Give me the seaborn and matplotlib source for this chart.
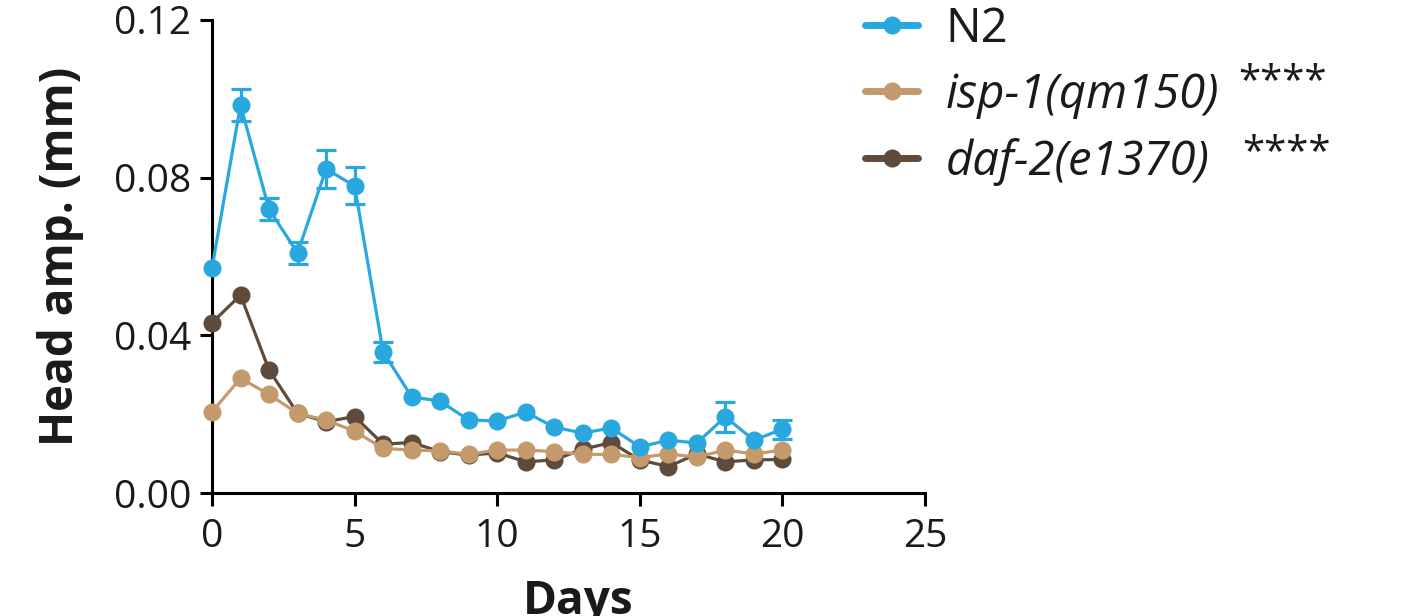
import numpy as np
import pandas as pd
import matplotlib
matplotlib.use("Agg")
import matplotlib.pyplot as plt
from matplotlib.lines import Line2D
import seaborn as sns

# Head amplitude (mm) by day of adulthood
days = list(range(0, 21))
n2_mean = [0.0571, 0.0984, 0.0720, 0.0609, 0.0822, 0.0779, 0.0358, 0.0244, 0.0233, 0.0185,
           0.0183, 0.0205, 0.0167, 0.0152, 0.0165, 0.0117, 0.0134, 0.0127, 0.0193, 0.0134, 0.0162]
n2_sem = [0.0015, 0.0041, 0.0028, 0.0029, 0.0048, 0.0047, 0.0025, 0.0012, 0.0012, 0.0010,
          0.0010, 0.0012, 0.0010, 0.0010, 0.0012, 0.0010, 0.0010, 0.0012, 0.0037, 0.0012, 0.0024]
isp1_mean = [0.0206, 0.0291, 0.0250, 0.0202, 0.0185, 0.0157, 0.0113, 0.0109, 0.0107, 0.0098,
             0.0109, 0.0109, 0.0105, 0.0098, 0.0098, 0.0090, 0.0099, 0.0091, 0.0109, 0.0099, 0.0109]
daf2_mean = [0.0432, 0.0502, 0.0312, 0.0202, 0.0181, 0.0194, 0.0124, 0.0128, 0.0105, 0.0096,
             0.0102, 0.0079, 0.0084, 0.0111, 0.0128, 0.0084, 0.0067, 0.0099, 0.0079, 0.0084, 0.0085]

strains = ["N2", "isp-1(qm150)", "daf-2(e1370)"]
significance = ["", "****", "****"]
colors = ["#29A8E0", "#C49A6C", "#5E4B3C"]
x_ticks = [0, 5, 10, 15, 20, 25]
y_ticks = [0.00, 0.04, 0.08, 0.12]

df = pd.DataFrame({
    "Days": days * 3,
    "amp": n2_mean + isp1_mean + daf2_mean,
    "strain": [strains[0]] * 21 + [strains[1]] * 21 + [strains[2]] * 21,
})

sns.set_style("ticks")
plt.rcParams["font.family"] = ["Open Sans", "DejaVu Sans"]

fig = plt.figure(figsize=(14.27, 6.16), dpi=100)
ax = fig.add_axes([212 / 1427, 1 - 493 / 616, 713 / 1427, 473 / 616])

lw = 2.3
ms = 13
txt = "#1a1a1a"

# error bars for N2, only where they reach beyond the marker
sem = np.array(n2_sem)
shown = sem > 0.0022
ax.errorbar(np.array(days)[shown], np.array(n2_mean)[shown], yerr=sem[shown],
            fmt="none", ecolor=colors[0], elinewidth=lw, capsize=7.5,
            capthick=lw, zorder=2)

palette = dict(zip(strains, colors))
sns.lineplot(data=df, x="Days", y="amp", hue="strain", hue_order=strains[::-1],
             palette=palette, marker="o", markersize=ms, markeredgewidth=0,
             linewidth=lw, legend=False, ax=ax, zorder=3)

ax.set_xlim(0, 25)
ax.set_ylim(0, 0.12)
ax.set_xticks(x_ticks)
ax.set_yticks(y_ticks)
ax.set_yticklabels([f"{v:.2f}" for v in y_ticks])
for c in ax.collections + ax.lines:
    c.set_clip_on(False)

sns.despine(ax=ax)
for s in ["left", "bottom"]:
    ax.spines[s].set_linewidth(2.2)
    ax.spines[s].set_color("black")
ax.tick_params(axis="both", length=9, width=2.2, color="black",
               labelsize=28, labelcolor=txt)
ax.tick_params(axis="x", pad=9)
ax.tick_params(axis="y", pad=6)

ax.set_xlabel("Days", fontsize=33, fontweight="bold", color=txt)
ax.set_ylabel("Head amp. (mm)", fontsize=33, fontweight="bold", color=txt)
ax.xaxis.set_label_coords(0.513, -0.18)
ax.yaxis.set_label_coords(-0.18, 0.5)

handles = [Line2D([0], [0], color=c, lw=5, marker="o", markersize=13,
                  markeredgewidth=0, solid_capstyle="round") for c in colors]
leg = ax.legend(handles, strains, loc="upper left",
                bbox_to_anchor=(865 / 1427, 1 - 5 / 616), bbox_transform=fig.transFigure,
                frameon=False, fontsize=34, handlelength=1.13, handletextpad=0.58,
                labelspacing=0.40, borderpad=0, borderaxespad=0)
for t in leg.get_texts()[1:]:
    t.set_style("italic")
for t in leg.get_texts():
    t.set_color(txt)

# significance stars beside the mutant strains
fig.text(1238 / 1427, 1 - 93 / 616, significance[1], fontsize=29, color=txt, va="baseline")
fig.text(1242 / 1427, 1 - 164 / 616, significance[2], fontsize=29, color=txt, va="baseline")

fig.savefig("out.png", dpi=100)
